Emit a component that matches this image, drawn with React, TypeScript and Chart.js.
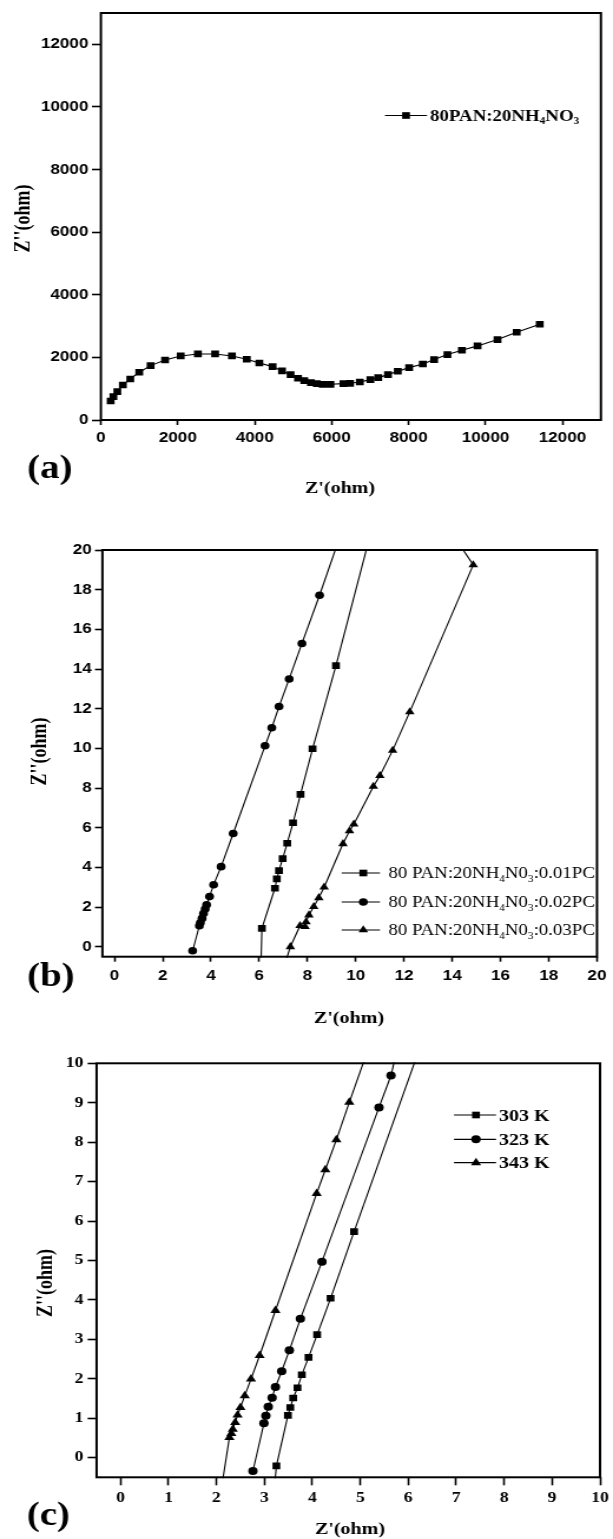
import React, { useEffect, useRef } from 'react';
import { Chart, registerables } from 'chart.js';

Chart.register(...registerables);

// ---------------- data ----------------
// (a) 80PAN:20NH4NO3
const A_X = [254, 325, 427, 570, 763, 997, 1292, 1668, 2075, 2522, 2969, 3407, 3793, 4119, 4464, 4708, 4932, 5125, 5288, 5461, 5614, 5766, 5969, 6305, 6478, 6732, 7007, 7210, 7464, 7719, 8014, 8370, 8664, 9010, 9386, 9793, 10312, 10810, 11410];
const A_Y = [608, 746, 906, 1119, 1311, 1524, 1737, 1918, 2046, 2110, 2110, 2046, 1940, 1822, 1705, 1567, 1449, 1332, 1258, 1194, 1162, 1140, 1140, 1162, 1172, 1215, 1290, 1354, 1449, 1556, 1673, 1790, 1929, 2089, 2228, 2367, 2569, 2804, 3060];
const A_LABEL = '80PAN:20NH₄NO₃';

// (b) PC content series
const B1_X = [6.06, 6.11, 6.65, 6.73, 6.82, 6.97, 7.16, 7.40, 7.71, 8.21, 9.18, 10.76];
const B1_Y = [-1.5, 0.93, 2.95, 3.42, 3.84, 4.44, 5.22, 6.25, 7.68, 9.98, 14.17, 21.5];
const B2_X = [3.24, 3.52, 3.56, 3.63, 3.69, 3.76, 3.82, 3.94, 4.11, 4.42, 4.92, 6.24, 6.52, 6.82, 7.24, 7.77, 8.50, 9.58];
const B2_Y = [-0.20, 1.06, 1.21, 1.43, 1.68, 1.90, 2.12, 2.53, 3.13, 4.04, 5.71, 10.13, 11.04, 12.11, 13.50, 15.29, 17.72, 21.5];
const B3_X = [6.9, 7.29, 7.69, 7.90, 7.94, 8.06, 8.26, 8.47, 8.69, 9.47, 9.74, 9.92, 10.73, 11.00, 11.53, 12.24, 14.87, 13.9];
const B3_Y = [-1.5, 0.0, 1.06, 1.01, 1.25, 1.60, 2.02, 2.47, 3.00, 5.19, 5.84, 6.18, 8.08, 8.62, 9.90, 11.84, 19.25, 21.0];
const B_LABELS = ['80 PAN:20NH₄N0₃:0.01PC', '80 PAN:20NH₄N0₃:0.02PC', '80 PAN:20NH₄N0₃:0.03PC'];

// (c) temperature series
const C1_X = [3.15, 3.25, 3.49, 3.54, 3.60, 3.69, 3.78, 3.92, 4.10, 4.38, 4.87, 6.42];
const C1_Y = [-1.5, -0.21, 1.07, 1.27, 1.51, 1.77, 2.10, 2.54, 3.12, 4.04, 5.73, 11.0];
const C2_X = [2.76, 2.99, 3.03, 3.08, 3.16, 3.23, 3.36, 3.52, 3.75, 4.20, 5.39, 5.64, 5.89];
const C2_Y = [-0.34, 0.87, 1.06, 1.29, 1.52, 1.79, 2.19, 2.72, 3.52, 4.97, 8.88, 9.69, 11.0];
const C3_X = [2.01, 2.27, 2.31, 2.34, 2.39, 2.44, 2.50, 2.59, 2.72, 2.90, 3.23, 4.09, 4.27, 4.50, 4.77, 5.35];
const C3_Y = [-1.5, 0.51, 0.61, 0.72, 0.89, 1.08, 1.27, 1.57, 1.99, 2.59, 3.73, 6.70, 7.30, 8.06, 9.01, 11.0];
const C_LABELS = ['303 K', '323 K', '343 K'];

// tick labels
const A_TICKS = [0, 2000, 4000, 6000, 8000, 10000, 12000];
const B_TICKS = [0, 2, 4, 6, 8, 10, 12, 14, 16, 18, 20];
const C_TICKS = [0, 1, 2, 3, 4, 5, 6, 7, 8, 9, 10];

const X_TITLE = "Z'(ohm)";
const Y_TITLE = "Z''(ohm)";
const TAGS = ['(a)', '(b)', '(c)'];

// ---------------- layout ----------------
const BW = 520; // bitmap width, stretched to page width
const PAGE_W = 613;
const K = PAGE_W / BW;
const cx = (v: number) => v / K;

const SERIF = '"Liberation Serif", "Times New Roman", serif';
const SANS = '"Liberation Sans", Arial, sans-serif';
const SUBS = '₀₁₂₃₄₅₆₇₈₉';

type Marker = 'rect' | 'circle' | 'triangle';
interface Series { xs: number[]; ys: number[]; label: string; marker: Marker; r: number; }

function drawRich(ctx: CanvasRenderingContext2D, text: string, x: number, yMid: number, size: number, weight: string) {
  const base = yMid + size * 0.33;
  ctx.textAlign = 'left';
  ctx.textBaseline = 'alphabetic';
  const runs: { t: string; sub: boolean }[] = [];
  for (const ch of text) {
    const sub = SUBS.includes(ch);
    const c = sub ? String(SUBS.indexOf(ch)) : ch;
    const last = runs[runs.length - 1];
    if (last && last.sub === sub) last.t += c;
    else runs.push({ t: c, sub });
  }
  let px = x;
  for (const r of runs) {
    const s = r.sub ? size * 0.6 : size;
    ctx.font = `${weight} ${s}px ${SERIF}`;
    ctx.fillText(r.t, px, r.sub ? base + size * 0.22 : base);
    px += ctx.measureText(r.t).width;
  }
}

function drawMarker(ctx: CanvasRenderingContext2D, m: Marker, x: number, y: number, r: number) {
  ctx.beginPath();
  if (m === 'rect') {
    const s = r * Math.SQRT1_2;
    ctx.rect(x - s, y - s, 2 * s, 2 * s);
  } else if (m === 'circle') {
    ctx.arc(x, y, r, 0, Math.PI * 2);
  } else {
    ctx.moveTo(x, y - r);
    ctx.lineTo(x + 0.866 * r, y + 0.5 * r);
    ctx.lineTo(x - 0.866 * r, y + 0.5 * r);
    ctx.closePath();
  }
  ctx.fillStyle = '#000';
  ctx.fill();
}

const PANELS = [
  {
    tag: TAGS[0], top: 0, h: 500,
    area: { l: 100.9, r: 600.9, t: 13, b: 420 },
    xr: [0, 13000], yr: [0, 13000], xticks: A_TICKS, yticks: A_TICKS,
    tickFont: { family: SANS, weight: 'bold', size: 14.5 },
    yTickLen: 7.6, yTickPad: 3, xTickLen: 5, xTickPad: 4,
    series: [{ xs: A_X, ys: A_Y, label: A_LABEL, marker: 'rect', r: 4.7 }] as Series[],
    legend: { x1: 385, x2: 427, mx: 406, tx: 430, rows: [115.5], size: 16, weight: 'bold' },
    yTitle: { x: 23.5, y: 218.5 }, xTitle: { x: 340, y: 488.5 }, tagPos: { x: 27, y: 469 },
  },
  {
    tag: TAGS[1], top: 500, h: 540,
    area: { l: 102.4, r: 600.9, t: 50, b: 456.7 },
    xr: [-0.5, 20], yr: [-0.5, 20], xticks: B_TICKS, yticks: B_TICKS,
    tickFont: { family: SANS, weight: 'bold', size: 14.5 },
    yTickLen: 6.3, yTickPad: 2.7, xTickLen: 5, xTickPad: 5.5,
    series: [
      { xs: B1_X, ys: B1_Y, label: B_LABELS[0], marker: 'rect', r: 4.7 },
      { xs: B2_X, ys: B2_Y, label: B_LABELS[1], marker: 'circle', r: 3.8 },
      { xs: B3_X, ys: B3_Y, label: B_LABELS[2], marker: 'triangle', r: 4.7 },
    ] as Series[],
    legend: { x1: 341.7, x2: 380, mx: 363.3, tx: 388.3, rows: [373, 402, 430], size: 16, weight: 'normal' },
    yTitle: { x: 40, y: 251.5 }, xTitle: { x: 349, y: 519 }, tagPos: { x: 27, y: 477.5 },
  },
  {
    tag: TAGS[2], top: 1040, h: 499,
    area: { l: 96.6, r: 604, t: 23.3, b: 437.3 },
    xr: [-0.5, 10], yr: [-0.5, 10], xticks: C_TICKS, yticks: C_TICKS,
    tickFont: { family: SERIF, weight: 'bold', size: 15 },
    yTickLen: 7.6, yTickPad: 3.5, xTickLen: 8, xTickPad: 3.5,
    series: [
      { xs: C1_X, ys: C1_Y, label: C_LABELS[0], marker: 'rect', r: 4.7 },
      { xs: C2_X, ys: C2_Y, label: C_LABELS[1], marker: 'circle', r: 4 },
      { xs: C3_X, ys: C3_Y, label: C_LABELS[2], marker: 'triangle', r: 5 },
    ] as Series[],
    legend: { x1: 454, x2: 496, mx: 476, tx: 499, rows: [75, 99.3, 122.7], size: 17, weight: 'bold' },
    yTitle: { x: 46, y: 243 }, xTitle: { x: 350, y: 490 }, tagPos: { x: 26.7, y: 476 },
  },
];

type PanelCfg = typeof PANELS[number];

function buildConfig(p: PanelCfg): any {
  const A = { l: cx(p.area.l), r: cx(p.area.r), t: p.area.t, b: p.area.b };
  const overlay = {
    id: 'overlay',
    afterDatasetsDraw(chart: any) {
      const ctx: CanvasRenderingContext2D = chart.ctx;
      const c = chart.chartArea;
      ctx.save();
      ctx.strokeStyle = '#000';
      ctx.lineWidth = 2;
      ctx.strokeRect(c.left, c.top, c.right - c.left, c.bottom - c.top);

      ctx.fillStyle = '#000';
      ctx.font = `bold 17px ${SERIF}`;
      ctx.textAlign = 'center';
      ctx.textBaseline = 'middle';
      ctx.fillText(X_TITLE, cx(p.xTitle.x), p.xTitle.y);

      ctx.save();
      ctx.translate(cx(p.yTitle.x), p.yTitle.y);
      ctx.rotate(-Math.PI / 2);
      ctx.font = `bold 18px ${SERIF}`;
      ctx.textAlign = 'center';
      ctx.textBaseline = 'middle';
      ctx.fillText(Y_TITLE, 0, 0);
      ctx.restore();

      ctx.font = `bold 33px ${SERIF}`;
      ctx.textAlign = 'left';
      ctx.textBaseline = 'middle';
      ctx.fillText(p.tag, cx(p.tagPos.x), p.tagPos.y);

      const lg = p.legend;
      p.series.forEach((s, i) => {
        const y = lg.rows[i];
        ctx.strokeStyle = '#000';
        ctx.lineWidth = 1.2;
        ctx.beginPath();
        ctx.moveTo(cx(lg.x1), y);
        ctx.lineTo(cx(lg.x2), y);
        ctx.stroke();
        drawMarker(ctx, s.marker, cx(lg.mx), y, s.r);
        ctx.fillStyle = '#000';
        drawRich(ctx, s.label, cx(lg.tx), y, lg.size, lg.weight);
      });
      ctx.restore();
    },
  };

  const axis = (isX: boolean) => ({
    type: 'linear',
    position: isX ? 'bottom' : 'left',
    min: isX ? p.xr[0] : p.yr[0],
    max: isX ? p.xr[1] : p.yr[1],
    afterBuildTicks: (s: any) => {
      s.ticks = (isX ? p.xticks : p.yticks).map((v) => ({ value: v }));
    },
    afterFit: (s: any) => {
      if (isX) s.height = p.h - A.b;
      else s.width = A.l;
    },
    grid: {
      display: true, drawOnChartArea: false, drawTicks: true,
      tickLength: isX ? p.xTickLen : p.yTickLen, tickWidth: 1.6, tickColor: '#000',
    },
    border: { display: false },
    ticks: {
      color: '#000', font: p.tickFont, padding: isX ? p.xTickPad : p.yTickPad,
      autoSkip: false, maxRotation: 0, minRotation: 0,
      callback: (v: any) => String(v),
    },
    title: { display: false },
  });

  return {
    type: 'scatter',
    data: {
      datasets: p.series.map((s) => ({
        label: s.label,
        data: s.xs.map((x, i) => ({ x, y: s.ys[i] })),
        showLine: true,
        borderColor: '#000',
        borderWidth: 1.1,
        backgroundColor: '#000',
        pointStyle: s.marker,
        pointRadius: s.r,
        pointHoverRadius: s.r,
        pointBackgroundColor: '#000',
        pointBorderColor: '#000',
        pointBorderWidth: 0,
        tension: 0,
        clip: 1,
      })),
    },
    options: {
      responsive: false,
      animation: false,
      devicePixelRatio: 1,
      events: [],
      layout: { padding: { left: 0, top: A.t, right: BW - A.r, bottom: 0 } },
      plugins: { legend: { display: false }, tooltip: { enabled: false } },
      scales: { x: axis(true), y: axis(false) },
    },
    plugins: [overlay],
  };
}

function Panel({ p }: { p: PanelCfg }) {
  const ref = useRef<HTMLCanvasElement>(null);
  useEffect(() => {
    const chart = new Chart(ref.current as HTMLCanvasElement, buildConfig(p));
    return () => chart.destroy();
  }, [p]);
  return (
    <canvas
      ref={ref}
      width={BW}
      height={p.h}
      style={{ position: 'absolute', left: 0, top: p.top, width: PAGE_W + 'px', height: p.h + 'px' }}
    />
  );
}

export default function App() {
  return (
    <div style={{ position: 'absolute', left: 0, top: 0, width: PAGE_W, height: 1539, background: '#fff', overflow: 'hidden' }}>
      {PANELS.map((p) => (
        <Panel key={p.tag} p={p} />
      ))}
    </div>
  );
}
